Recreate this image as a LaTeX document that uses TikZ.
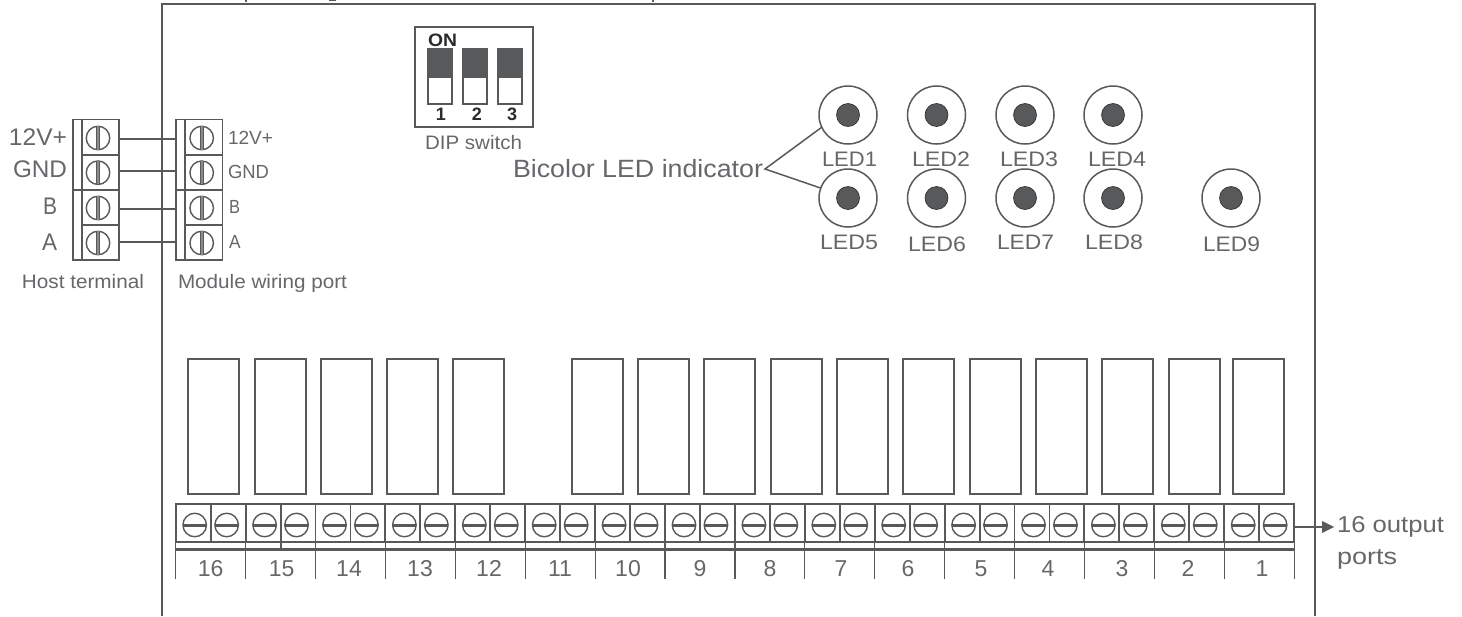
\documentclass[tikz,border=0pt]{standalone}
\usepackage{fontspec}
\setmainfont{Liberation Sans}
\definecolor{ink}{HTML}{58595B}
\definecolor{txt}{HTML}{66676A}
\definecolor{dark}{HTML}{2B2B2D}
\newsavebox\fitbox
\newcommand{\fitw}[2]{\sbox\fitbox{#2}\pgfmathsetmacro\fitratio{#1/(\wd\fitbox/1pt)}\scalebox{\fitratio}[1]{\usebox\fitbox}}
% \lbl{name}{left x}{baseline y}{size}{width}{text}
\newcommand{\lbl}[6]{\node[lab,font=\fontsize{#4}{#4}\selectfont] (#1) at (#2,#3) {\fitw{#5}{#6}};}
\tikzset{
  x=1pt,y=-1pt,
  line/.style={draw=ink,line width=1.4pt},
  lab/.style={anchor=base west,inner sep=0pt,outer sep=0pt,text=txt},
  boxn/.style={draw=ink,line width=1.9pt,rectangle,inner sep=0pt,outer sep=0pt,anchor=north west},
  screw/.style={draw=ink,line width=1.4pt,circle,inner sep=0pt,outer sep=0pt,minimum size=23.5pt},
  ledo/.style={draw=ink,line width=1.5pt,circle,fill=white,inner sep=0pt,outer sep=0pt,minimum size=58pt},
  ledi/.style={draw=dark,line width=.6pt,circle,fill=ink,inner sep=0pt,outer sep=0pt,minimum size=23pt},
}
\begin{document}
\begin{tikzpicture}
\useasboundingbox (0,0) rectangle (1462,616);
% clipped text above the frame
\draw[ink,line width=1.5pt] (246,0) -- (246,1.5) (329,.7) -- (336,.7) (653,0) -- (653,1.5);
% frame
\draw[ink,line width=2pt] (162,616) -- (162,4) -- (1315,4) -- (1315,616);

% wires (under terminals)
\coordinate (hw1) at (119,138.5); \coordinate (mw1) at (176,138.5);
\coordinate (hw2) at (119,171);   \coordinate (mw2) at (176,171);
\coordinate (hw3) at (119,209);   \coordinate (mw3) at (176,209);
\coordinate (hw4) at (119,242);   \coordinate (mw4) at (176,242);
\draw[line,line width=2pt] (hw1) -- (mw1);
\draw[line] (hw2) -- (mw2);
\draw[line] (hw3) -- (mw3);
\draw[line] (hw4) -- (mw4);

% side terminals
\foreach \n/\xs/\xc/\xm in {h/73/81.7/98, m/176/185/201.7}{
  \node[boxn,minimum width=8.7pt,minimum height=70.5pt] (\n sa) at (\xs,119.5) {};
  \node[boxn,minimum width=8.7pt,minimum height=70pt] (\n sb) at (\xs,190) {};
  \foreach \r/\yt/\yc in {1/119.5/138, 2/155/172.7, 3/190/208, 4/225/243}{
    \node[boxn,minimum width=37.5pt,minimum height=35pt] (\n c\r) at (\xc,\yt) {};
    \node[screw] (\n k\r) at (\xm,\yc) {};
    \draw[ink!70,line width=2pt] (\n k\r.north) -- (\n k\r.south);
    \draw[ink,line width=1.1pt] ([xshift=-1.6pt]\n k\r.north) -- ([xshift=-1.6pt]\n k\r.south)
      ([xshift=1.6pt]\n k\r.north) -- ([xshift=1.6pt]\n k\r.south);
  }
}
\lbl{hl1}{9}{145}{24}{58}{12V+}
\lbl{hl2}{13}{177}{24}{54}{GND}
\lbl{hl3}{43}{214}{24}{14}{B}
\lbl{hl4}{42}{250.7}{24}{15}{A}
\lbl{ml1}{228}{144}{19}{45}{12V+}
\lbl{ml2}{228}{178}{19}{41}{GND}
\lbl{ml3}{229}{213}{19}{11}{B}
\lbl{ml4}{229}{248}{19}{11.5}{A}
\lbl{hostl}{22}{288}{19.5}{122}{Host terminal}
\lbl{modl}{178}{288}{19.5}{169}{Module wiring port}

% DIP switch
\node[boxn,minimum width=118pt,minimum height=100pt] (dip) at (415,27) {};
\foreach \i/\x/\xn in {1/428/441, 2/463/477, 3/498/512}{
  \node[boxn,minimum width=24pt,minimum height=55pt] (sw\i) at (\x,49) {};
  \node[boxn,fill=ink,minimum width=24pt,minimum height=28pt] (swt\i) at (\x,49) {};
  \node[anchor=base,inner sep=0pt,text=dark,font=\fontsize{18}{18}\selectfont\bfseries] (swn\i) at (\xn,120) {\i};
}
\node[lab,text=dark,font=\fontsize{18}{18}\selectfont\bfseries] (on) at (428,46) {\fitw{29}{ON}};
\lbl{dipl}{425}{149}{19.5}{97}{DIP switch}
\lbl{bic}{513}{177}{25}{250}{Bicolor LED indicator}

% LEDs
\foreach \i/\x/\y in {1/848/115, 2/936.5/115, 3/1025/115, 4/1113/115, 5/848/198, 6/936.5/198, 7/1025/198, 8/1113/198, 9/1231/198}{
  \node[ledo] (led\i) at (\x,\y) {};
  \node[ledi] (ledc\i) at (\x,\y) {};
}
\coordinate (apex) at (765,169);
\draw[line,line width=1.5pt] (led1.205) -- (apex) -- (led5.160);
\lbl{l1}{822}{166}{21}{55}{LED1}
\lbl{l2}{912}{166}{21}{58}{LED2}
\lbl{l3}{1000}{166}{21}{58}{LED3}
\lbl{l4}{1088}{166}{21}{58}{LED4}
\lbl{l5}{820}{249}{21}{58}{LED5}
\lbl{l6}{908}{251}{21}{58}{LED6}
\lbl{l7}{997}{249}{21}{57}{LED7}
\lbl{l8}{1085}{249}{21}{58}{LED8}
\lbl{l9}{1203}{251}{21}{57}{LED9}

% relays
\foreach \i/\x in {1/188,2/255,3/321,4/387,5/453,6/572,7/638,8/704,9/771,10/837,11/903,12/970,13/1036,14/1102,15/1169,16/1233}{
  \node[boxn,minimum width=51pt,minimum height=135pt] (rel\i) at (\x,359) {};
}

% output terminal block
\foreach \i in {0,...,31}{
  \pgfmathsetmacro\cx{175.7+34.95*\i}
  \pgfmathsetmacro\sx{\cx+17.5+(mod(\i,2)==0?1.5:-1.5)}
  \node[boxn,minimum width=34.95pt,minimum height=37.7pt] (cell\i) at (\cx,504) {};
  \node[screw] (scr\i) at (\sx,525) {};
  \draw[ink,line width=3pt] (scr\i.west) -- (scr\i.east);
}
\foreach \i in {0,...,15}{
  \pgfmathsetmacro\cx{175.7+69.9*\i}
  \node[boxn,line width=1.2pt,minimum width=69.9pt,minimum height=7.8pt] (st\i) at (\cx,541.7) {};
  \draw[ink,line width=1.2pt] (st\i.south west) -- ++(0,29.5);
}
\draw[ink,line width=1.2pt] (281,541.7) -- (281,549.5);
\draw[ink,line width=2.4pt] (st0.south west) -- (st15.south east);
\draw[ink,line width=1.2pt] (st15.south east) -- ++(0,29.5);
\foreach \n/\x in {16/210.7,15/281.7,14/349,13/420,12/489,11/560,10/628,9/700,8/770,7/841,6/908,5/981,4/1048,3/1122,2/1188,1/1262}{
  \node[anchor=base,inner sep=0pt,text=txt,font=\fontsize{23}{23}\selectfont] (num\n) at (\x,576) {\n};
}

% output arrow
\coordinate (arrtip) at (1334,527);
\draw[ink,line width=1.3pt] (cell31.east |- arrtip) -- (1322,527);
\fill[ink] (arrtip) -- (1322,521) -- (1322,533) -- cycle;
\lbl{o1}{1337}{532.7}{23}{107}{16 output}
\lbl{o2}{1337}{564}{23}{60}{ports}
\end{tikzpicture}
\end{document}
